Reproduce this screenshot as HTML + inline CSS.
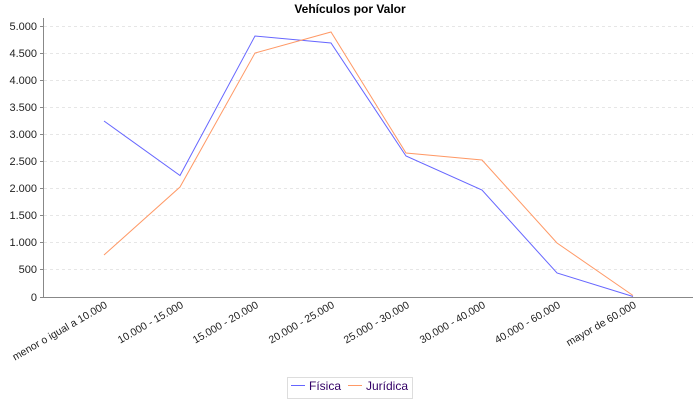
<!DOCTYPE html>
<html><head><meta charset="utf-8"><style>body{margin:0;background:#fff}</style></head><body>
<svg width="700" height="400" xmlns="http://www.w3.org/2000/svg" font-family="Liberation Sans, sans-serif">
<rect width="700" height="400" fill="#fff"/>
<text x="350" y="13" text-anchor="middle" font-size="12" font-weight="bold">Vehículos por Valor</text>
<g stroke="#e6e6e6" stroke-dasharray="3,3" stroke-width="1">
<line x1="44" x2="693" y1="26.5" y2="26.5"/><line x1="44" x2="693" y1="53.5" y2="53.5"/><line x1="44" x2="693" y1="80.5" y2="80.5"/><line x1="44" x2="693" y1="107.5" y2="107.5"/><line x1="44" x2="693" y1="134.5" y2="134.5"/><line x1="44" x2="693" y1="161.5" y2="161.5"/><line x1="44" x2="693" y1="188.5" y2="188.5"/><line x1="44" x2="693" y1="215.5" y2="215.5"/><line x1="44" x2="693" y1="242.5" y2="242.5"/><line x1="44" x2="693" y1="269.5" y2="269.5"/>
</g>
<line x1="43.5" y1="18" x2="43.5" y2="297" stroke="#888"/>
<line x1="40" y1="297.5" x2="693" y2="297.5" stroke="#888"/>
<g font-size="11" text-anchor="end" fill="#222">
<text x="37" y="30">5.000</text><text x="37" y="57">4.500</text><text x="37" y="84">4.000</text><text x="37" y="111">3.500</text><text x="37" y="138">3.000</text><text x="37" y="165">2.500</text><text x="37" y="192">2.000</text><text x="37" y="219">1.500</text><text x="37" y="246">1.000</text><text x="37" y="273">500</text><text x="37" y="301">0</text>
</g>
<g stroke="#888"><line x1="40" x2="43" y1="26.5" y2="26.5"/><line x1="40" x2="43" y1="53.5" y2="53.5"/><line x1="40" x2="43" y1="80.5" y2="80.5"/><line x1="40" x2="43" y1="107.5" y2="107.5"/><line x1="40" x2="43" y1="134.5" y2="134.5"/><line x1="40" x2="43" y1="161.5" y2="161.5"/><line x1="40" x2="43" y1="188.5" y2="188.5"/><line x1="40" x2="43" y1="215.5" y2="215.5"/><line x1="40" x2="43" y1="242.5" y2="242.5"/><line x1="40" x2="43" y1="269.5" y2="269.5"/></g>
<g font-size="10.5" text-anchor="end" fill="#222">
<text transform="translate(108,307) rotate(-30)">menor o igual a 10.000</text>
<text transform="translate(184,307) rotate(-30)">10.000 - 15.000</text>
<text transform="translate(259,307) rotate(-30)">15.000 - 20.000</text>
<text transform="translate(335,307) rotate(-30)">20.000 - 25.000</text>
<text transform="translate(410,307) rotate(-30)">25.000 - 30.000</text>
<text transform="translate(486,307) rotate(-30)">30.000 - 40.000</text>
<text transform="translate(561,307) rotate(-30)">40.000 - 60.000</text>
<text transform="translate(637,307) rotate(-30)">mayor de 60.000</text>
</g>
<polyline fill="none" stroke="#6666ff" stroke-width="1" points="104,121 180,175.5 255,36 331,43 406,156 482,190 557,273 633,296.5"/>
<polyline fill="none" stroke="#ff9966" stroke-width="1" points="104,255 180,187 255,53 331,32 406,153 482,160 557,243 633,295.5"/>
<rect x="287.5" y="377.5" width="125" height="21" fill="#fff" stroke="#ddd"/>
<line x1="291" y1="385.5" x2="305" y2="385.5" stroke="#6666ff"/>
<text x="309" y="390" font-size="12" fill="#330066">Física</text>
<line x1="348" y1="385.5" x2="362" y2="385.5" stroke="#ff9966"/>
<text x="366" y="390" font-size="12" fill="#330066">Jurídica</text>
</svg>
</body></html>
